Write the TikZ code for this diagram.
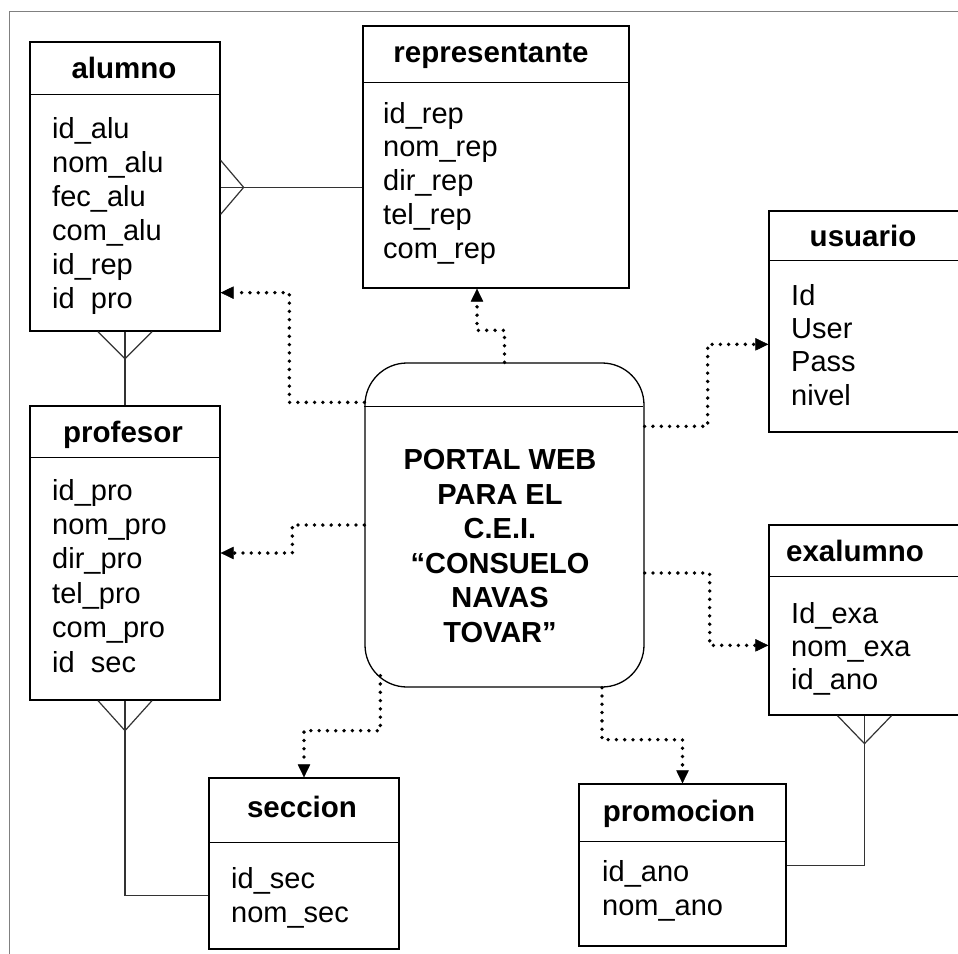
\documentclass[tikz,border=0pt]{standalone}
\usepackage{fontspec}
\setmainfont{Liberation Sans}
\usetikzlibrary{calc,arrows.meta}

\tikzset{
  tabla/.style={draw, line width=1.3pt, inner sep=0pt},
  linea/.style={line width=1.3pt},
  titulo/.style={font=\fontsize{29.5}{34}\selectfont\bfseries, anchor=base, inner sep=0pt},
  campos/.style={font=\fontsize{29}{34}\selectfont, align=left, anchor=base west, inner sep=0pt},
  flujo/.style={line width=3.8pt, line cap=round, dash pattern=on 0pt off 8.3pt,
    -{Triangle[length=13pt,width=12.5pt,line width=0.5pt]}},
  rel/.style={line width=1.2pt, black!80}
}

\begin{document}
\begin{tikzpicture}[x=1pt,y=-1pt]
        \useasboundingbox (0,0) rectangle (958,953);
        \clip (0,0) rectangle (958,953);
        \draw[black!50, line width=1pt] (9,11) rectangle (990,990);

        % tablas (el ancla base de los campos es la ultima linea)
        \node[tabla, minimum width=190, minimum height=289] (alumno) at (125,186.5) {};
        \draw[linea] (alumno.north west) ++(0,53) -- ++(190,0);
        \node[titulo] (alumnotit) at (124,78) {alumno};
        \node[campos] (alumnocam) at (52,308) {id\_alu\\nom\_alu\\fec\_alu\\com\_alu\\id\_rep\\id\phantom{\_}pro};

        \node[tabla, minimum width=266, minimum height=262] (rep) at (496,157) {};
        \draw[linea] (rep.north west) ++(0,57) -- ++(266,0);
        \node[titulo] (reptit) at (491,62) {representante};
        \node[campos, font=\fontsize{29}{33.75}\selectfont] (repcam) at (383,258) {id\_rep\\nom\_rep\\dir\_rep\\tel\_rep\\com\_rep};

        \node[tabla, minimum width=191, minimum height=221] (usuario) at (864.5,321.5) {};
        \draw[linea] (usuario.north west) ++(0,50) -- ++(191,0);
        \node[titulo] (usuariotit) at (863,246) {usuario};
        \node[campos, font=\fontsize{29}{33.3}\selectfont] (usuariocam) at (791,405) {Id\\User\\Pass\\nivel};

        \node[tabla, minimum width=190, minimum height=294] (profesor) at (125,553) {};
        \draw[linea] (profesor.north west) ++(0,52) -- ++(190,0);
        \node[titulo] (profesortit) at (123,442) {profesor};
        \node[campos, font=\fontsize{29}{34.4}\selectfont] (profesorcam) at (52,672) {id\_pro\\nom\_pro\\dir\_pro\\tel\_pro\\com\_pro\\id\phantom{\_}sec};

        \node[tabla, minimum width=191, minimum height=190] (exalumno) at (864.5,620) {};
        \draw[linea] (exalumno.north west) ++(0,52) -- ++(191,0);
        \node[titulo] (exalumnotit) at (855,561) {exalumno};
        \node[campos, font=\fontsize{29}{33}\selectfont] (exalumnocam) at (791,689) {Id\_exa\\nom\_exa\\id\_ano};

        \node[tabla, minimum width=190, minimum height=171] (seccion) at (304,863.5) {};
        \draw[linea] (seccion.north west) ++(0,65) -- ++(190,0);
        \node[titulo] (secciontit) at (302,817) {seccion};
        \node[campos] (seccioncam) at (231,922) {id\_sec\\nom\_sec};

        \node[tabla, minimum width=207, minimum height=162] (promocion) at (682.5,865) {};
        \draw[linea] (promocion.north west) ++(0,58) -- ++(207,0);
        \node[titulo] (promociontit) at (679,821) {promocion};
        \node[campos] (promocioncam) at (602,915) {id\_ano\\nom\_ano};

        % proceso central
        \node[tabla, rounded corners=42pt, minimum width=279, minimum height=324] (portal) at (504.5,525) {};
        \draw[linea] (portal.north west) ++(0,44) -- ++(279,0);
        \node[font=\fontsize{29}{34.5}\selectfont\bfseries, align=center, anchor=base, inner sep=0pt] (portaltxt) at (500,642)
            {PORTAL WEB\\PARA EL\\C.E.I.\\“CONSUELO\\NAVAS\\TOVAR”};

        % relaciones
        \coordinate (r1) at ($(rep.north west)+(0,162)$);
        \draw[rel] (r1) -- (alumno.east |- r1);
        \draw[rel] ($(alumno.east |- r1)+(0,-27)$) -- ++(23,27) -- ++(-23,27);
        \draw[rel] (alumno.south) -- (profesor.north);
        \draw[rel] ($(alumno.south)+(-27,0)$) -- ++(27,27) -- ++(27,-27);
        \draw[rel] (profesor.south) |- ($(seccion.north west)+(0,118)$);
        \draw[rel] ($(profesor.south)+(-27,0)$) -- ++(27,30) -- ++(27,-30);
        \draw[rel] (exalumno.south) |- ($(promocion.north east)+(0,82)$);
        \draw[rel] ($(exalumno.south)+(-27,0)$) -- ++(27,28) -- ++(27,-28);

        % flujos
        \draw[flujo] ($(portal.north west)+(0,40)$) -- ++(-75,0) |- ($(alumno.south east)+(0,-39)$);
        \draw[flujo] (portal.north) -- ++(0,-32) -| ($(rep.south)+(-19,0)$);
        \draw[flujo] ($(portal.north east)+(0,64)$) -- ++(63,0) |- ($(usuario.north west)+(0,134)$);
        \draw[flujo] ($(portal.east)+(0,48)$) -- ++(65,0) |- ($(exalumno.north west)+(0,121)$);
        \draw[flujo] (portal.west) -- ++(-72,0) |- (profesor.east);
        \draw[flujo] ($(portal.south west)+(16,-12)$) -- ++(0,55) -| (seccion.north);
        \draw[flujo] ($(portal.south)+(97.5,0)$) -- ++(0,52) -| (promocion.north);
    \end{tikzpicture}
\end{document}
